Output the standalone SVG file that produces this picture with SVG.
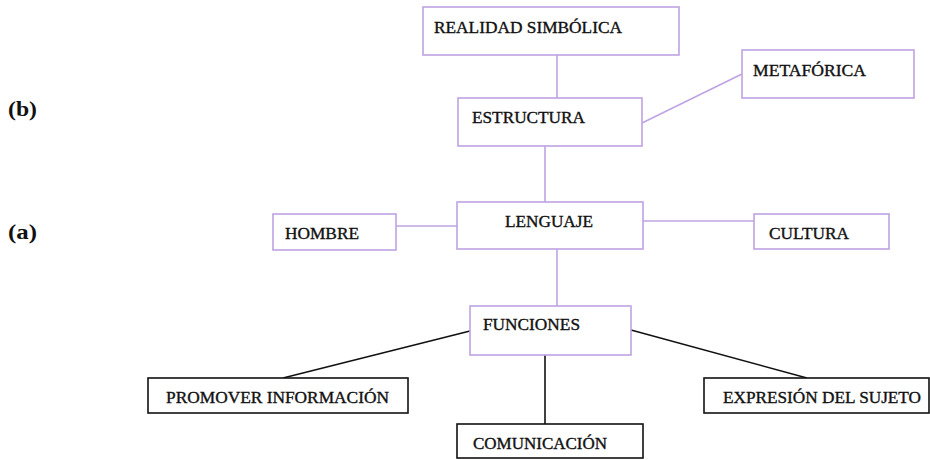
<svg xmlns="http://www.w3.org/2000/svg" width="930" height="460" viewBox="0 0 930 460">
<style>
.p{fill:#fff;stroke:#bfa3e3;stroke-width:1.6}
.k{fill:#fff;stroke:#111;stroke-width:1.6}
.lp{stroke:#bfa3e3;stroke-width:1.6;fill:none}
.lk{stroke:#111;stroke-width:1.6;fill:none}
text{font-family:"Liberation Serif","DejaVu Serif",serif;font-size:16px;fill:#111;stroke:#111;stroke-width:0.35}
.lbl{font-weight:bold;font-size:20px;stroke:none}
</style>
<rect width="930" height="460" fill="#fff"/>
<g id="connectors">
<line class="lp" x1="557" y1="55" x2="557" y2="98"/>
<line class="lp" x1="642" y1="123" x2="742" y2="74"/>
<line class="lp" x1="545" y1="146" x2="545" y2="202"/>
<line class="lp" x1="396" y1="226" x2="457" y2="226"/>
<line class="lp" x1="643" y1="221" x2="754" y2="221"/>
<line class="lp" x1="557" y1="249" x2="557" y2="306"/>
<line class="lk" x1="470" y1="331" x2="283" y2="378"/>
<line class="lk" x1="631" y1="330" x2="807" y2="378"/>
<line class="lk" x1="545" y1="355" x2="545" y2="424"/>
</g>
<g id="label-b"><text class="lbl" x="8" y="116" textLength="29" lengthAdjust="spacingAndGlyphs">(b)</text></g>
<g id="label-a"><text class="lbl" x="8" y="239" textLength="29" lengthAdjust="spacingAndGlyphs">(a)</text></g>
<g id="realidad"><rect class="p" x="423" y="7" width="256" height="48"/><text x="434" y="33" textLength="188" lengthAdjust="spacingAndGlyphs">REALIDAD SIMBÓLICA</text></g>
<g id="metaforica"><rect class="p" x="742" y="50" width="172" height="48"/><text x="753" y="76" textLength="113" lengthAdjust="spacingAndGlyphs">METAFÓRICA</text></g>
<g id="estructura"><rect class="p" x="458" y="98" width="184" height="48"/><text x="472" y="123" textLength="113" lengthAdjust="spacingAndGlyphs">ESTRUCTURA</text></g>
<g id="lenguaje"><rect class="p" x="457" y="202" width="186" height="47"/><text x="505" y="227" textLength="88" lengthAdjust="spacingAndGlyphs">LENGUAJE</text></g>
<g id="hombre"><rect class="p" x="273" y="214" width="123" height="36"/><text x="285" y="239" textLength="74" lengthAdjust="spacingAndGlyphs">HOMBRE</text></g>
<g id="cultura"><rect class="p" x="754" y="214" width="135" height="35"/><text x="769" y="239" textLength="80" lengthAdjust="spacingAndGlyphs">CULTURA</text></g>
<g id="funciones"><rect class="p" x="470" y="306" width="161" height="49"/><text x="483" y="330" textLength="97" lengthAdjust="spacingAndGlyphs">FUNCIONES</text></g>
<g id="promover"><rect class="k" x="148" y="378" width="260" height="35"/><text x="166" y="403" textLength="223" lengthAdjust="spacingAndGlyphs">PROMOVER INFORMACIÓN</text></g>
<g id="expresion"><rect class="k" x="704" y="378" width="225" height="35"/><text x="723" y="403" textLength="198" lengthAdjust="spacingAndGlyphs">EXPRESIÓN DEL SUJETO</text></g>
<g id="comunicacion"><rect class="k" x="457" y="424" width="186" height="34"/><text x="473" y="449" textLength="134" lengthAdjust="spacingAndGlyphs">COMUNICACIÓN</text></g>
</svg>
